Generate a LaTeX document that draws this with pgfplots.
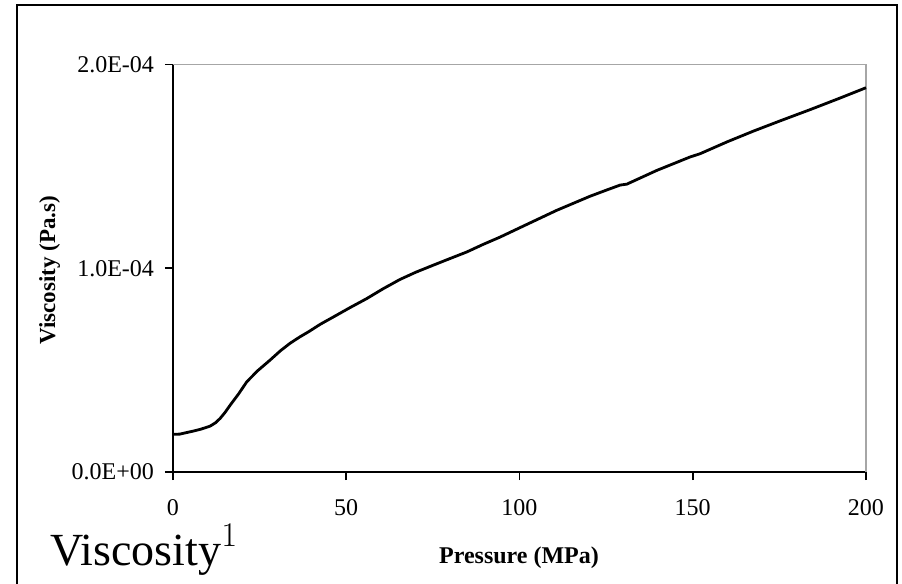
\documentclass[border=0pt]{standalone}
\usepackage{fontspec}
\setmainfont{Liberation Serif}
\usepackage{pgfplots}
\pgfplotsset{compat=1.18}
\begin{document}
\begin{tikzpicture}[x=1pt,y=1pt]
\useasboundingbox (0,0) rectangle (451,-292);
\draw[line width=0.8pt] (8.5,-295) -- (8.5,-2.5) -- (448.5,-2.5) -- (448.5,-295);
\begin{axis}[
  at={(86.5pt,-236pt)}, anchor=south west,
  scale only axis, width=346.5pt, height=203.75pt,
  xmin=0, xmax=200, ymin=0, ymax=0.0002,
  axis x line*=bottom, axis y line*=left,
  axis line style={line width=0.8pt, -},
  tick align=outside, major tick length=4pt,
  tick style={line width=0.8pt, black},
  xtick={0,50,100,150,200},
  ytick={0,0.0001,0.0002},
  yticklabels={0.0E+00,1.0E-04,2.0E-04},
  scaled y ticks=false,
  /pgf/number format/assume math mode=true,
  ticklabel style={font=\fontsize{12}{14}\selectfont},
  xticklabel style={yshift=-6pt},
  yticklabel style={xshift=-2pt},
  clip=false,
]
\draw[gray!70, line width=0.8pt] (rel axis cs:0,1) -- (rel axis cs:1,1) -- (rel axis cs:1,0);
\addplot[black, line width=1.4pt] coordinates {
(0,1.85e-5) (2,1.86e-5) (3,1.9e-5) (5.9,2.01e-5) (8,2.1e-5) (10.7,2.25e-5)
(12.3,2.42e-5) (13.6,2.63e-5) (15,2.92e-5) (16.5,3.28e-5) (19,3.85e-5) (21.3,4.43e-5)
(24.5,4.98e-5) (28,5.49e-5) (31,5.95e-5) (33.8,6.32e-5) (36.6,6.63e-5) (39.1,6.88e-5)
(42.5,7.25e-5) (46.3,7.61e-5) (51,8.06e-5) (55.9,8.51e-5) (60.5,8.98e-5) (65.5,9.45e-5)
(70,9.80e-5) (75.1,1.015e-4) (80,1.048e-4) (84.8,1.08e-4) (89.5,1.117e-4) (94.4,1.153e-4)
(101.1,1.207e-4) (110.7,1.284e-4) (120.3,1.353e-4) (125,1.383e-4) (129,1.408e-4) (131,1.413e-4)
(139.6,1.48e-4) (149.2,1.546e-4) (152.1,1.562e-4) (160,1.621e-4) (167.5,1.673e-4)
(175,1.722e-4) (183.8,1.778e-4) (192,1.832e-4) (200,1.886e-4)
};
\end{axis}
\node[rotate=90, anchor=base, font=\fontsize{11.5}{13}\selectfont\bfseries] at (27.5,-135) {Viscosity (Pa.s)};
\node[anchor=base, font=\fontsize{12}{14}\selectfont\bfseries] at (259.5,-281.5) {Pressure (MPa)};
\node[anchor=base west, inner sep=0pt, font=\fontsize{23}{27}\selectfont] at (25,-282.5) {Viscosity$^{1}$};
\end{tikzpicture}
\end{document}
